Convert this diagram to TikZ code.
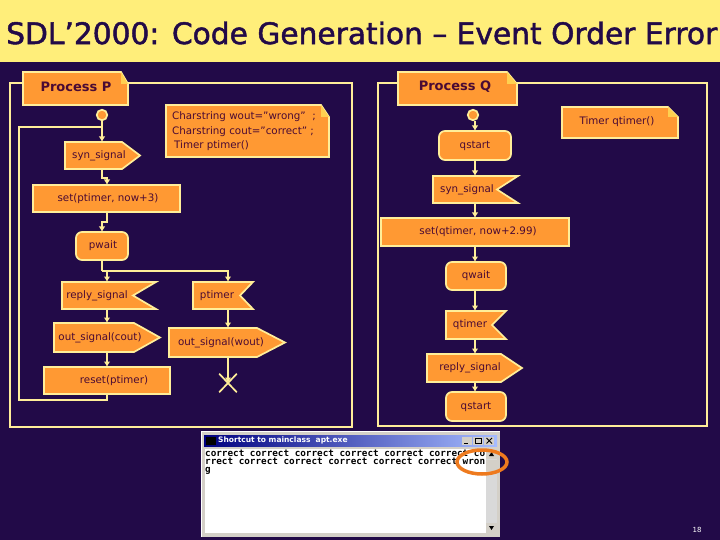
\documentclass[tikz,border=0pt]{standalone}
\usepackage{fontspec}
\setmainfont{DejaVu Sans}
\newfontfamily\monof{DejaVu Sans Mono}
\newfontfamily\titlef[FakeBold=1.6]{DejaVu Sans}
\usetikzlibrary{arrows.meta,shapes.misc}
\definecolor{bgc}{HTML}{220A48}
\definecolor{band}{HTML}{FFEE7A}
\definecolor{boxc}{HTML}{FF9933}
\definecolor{linec}{HTML}{FFEE99}
\definecolor{txt}{HTML}{4A0A34}
\definecolor{fold}{HTML}{FFD050}
\definecolor{winc}{HTML}{D4D0C8}
\definecolor{ringc}{HTML}{EE7A1E}
\tikzset{
  x=1pt,y=-1pt,
  outline/.style={draw=linec,line width=1.7pt,fill=boxc,line join=miter},
  holder/.style={inner sep=0pt,outer sep=0pt},
  lab/.style={inner sep=0pt,text=txt,font=\fontsize{10.3}{12}\selectfont},
  headlab/.style={inner sep=0pt,text=txt,font=\fontsize{13}{15}\selectfont\bfseries},
  flow/.style={draw=linec,line width=1.5pt,-{Latex[length=5.5pt,width=6.5pt]}},
  plainflow/.style={draw=linec,line width=1.5pt},
  frame/.style={draw=linec,line width=1.7pt},
  startc/.style={circle,draw=linec,line width=1.7pt,fill=boxc,minimum size=10.5pt,inner sep=0pt}
}
% holder node: name, x1,y1,x2,y2
\newcommand{\holder}[5]{\node[holder,minimum width={(#4-#2)*1pt},minimum height={(#5-#3)*1pt}] (#1) at ({(#2+#4)/2},{(#3+#5)/2}) {};}
% task / rounded: name,x1,y1,x2,y2,textx,text
\newcommand{\taskbox}[7]{\draw[outline] (#2,#3) rectangle (#4,#5);\holder{#1}{#2}{#3}{#4}{#5}\node[lab] (#1t) at (#6,{(#3+#5)/2}) {#7};}
\newcommand{\statebox}[7]{\draw[outline,rounded corners=6pt] (#2,#3) rectangle (#4,#5);\holder{#1}{#2}{#3}{#4}{#5}\node[lab] (#1t) at (#6,{(#3+#5)/2}) {#7};}
% send: name,x1,y1,x2,y2,notch,textx,text
\newcommand{\sendbox}[8]{\draw[outline] (#2,#3) -- (#6,#3) -- (#4,{(#3+#5)/2}) -- (#6,#5) -- (#2,#5) -- cycle;\holder{#1}{#2}{#3}{#4}{#5}\node[lab] (#1t) at (#7,{(#3+#5)/2}) {#8};}
\newcommand{\recvbox}[8]{\draw[outline] (#2,#3) -- (#4,#3) -- (#6,{(#3+#5)/2}) -- (#4,#5) -- (#2,#5) -- cycle;\holder{#1}{#2}{#3}{#4}{#5}\node[lab] (#1t) at (#7,{(#3+#5)/2}) {#8};}
% note: name,x1,y1,x2,y2,foldx,foldy
\newcommand{\notebox}[7]{\draw[outline] (#2,#3) -- (#6,#3) -- (#4,#7) -- (#4,#5) -- (#2,#5) -- cycle;\fill[fold] (#6,#3) -- (#4,#7) -- (#6,#7) -- cycle;\holder{#1}{#2}{#3}{#4}{#5}}
\begin{document}
\begin{tikzpicture}
\useasboundingbox (0,0) rectangle (720,540);
\fill[bgc] (0,0) rectangle (720,540);
\fill[band] (0,0) rectangle (720,62.5);
\node[inner sep=0pt,anchor=west,text=bgc] (title) at (6,33) {\resizebox{711pt}{!}{\titlef\fontsize{28}{32}\selectfont SDL’2000: Code Generation – Event Order Error}};

% frames
\draw[frame] (10,83) rectangle (352,427);
\draw[frame] (378,83) rectangle (707,426);

% Process P
\notebox{phead}{23}{72}{128}{105}{121}{84}
\node[headlab] (pheadt) at (76,87) {Process P};
\notebox{pnote}{166}{105}{329}{157}{321}{117}
\node[lab,anchor=west] (pn1) at (172,117) {Charstring wout="wrong"\ \ ;};
\node[lab,anchor=west] (pn2) at (172,132) {Charstring cout="correct" ;};
\node[lab,anchor=west] (pn3) at (174,146) {Timer ptimer()};
\node[startc] (pstart) at (102,115) {};
\sendbox{psyn}{65}{142}{140}{169}{122}{99}{syn\_signal}
\taskbox{pset}{33}{185}{180}{212}{108}{set(ptimer, now+3)}
\statebox{pwait}{76}{232}{128}{260}{103}{pwait}
\recvbox{prep}{62}{282}{156}{309}{133}{97}{reply\_signal}
\recvbox{ptim}{193}{282}{253}{309}{240}{217}{ptimer}
\sendbox{pcout}{54}{323}{160}{352}{134}{100}{out\_signal(cout)}
\sendbox{pwout}{169}{328}{285}{357}{257}{221}{out\_signal(wout)}
\taskbox{pres}{44}{367}{170}{394}{114}{reset(ptimer)}
\node[cross out,draw=linec,line width=1.7pt,minimum width=16pt,minimum height=17pt,inner sep=0pt] (pstop) at (228,383) {};

\coordinate (pa) at (102,0);
\coordinate (pb) at (107,0);
\coordinate (pc) at (228,0);
\coordinate (pbr) at (102,271);
\coordinate (ploopa) at (19,400);
\coordinate (ploopb) at (19,127);
\coordinate (pjoin) at (102,127);
\draw[flow] (pstart.south) -- (psyn.north -| pstart.south);
\draw[flow] (psyn.south -| pa) -- ++(0,9) -| (pset.north -| pb);
\draw[flow] (pset.south -| pb) -- ++(0,10) -| (pwait.north -| pa);
\draw[plainflow] (pwait.south -| pa) -- (pbr);
\draw[flow] (pbr) -| (prep.north -| pb);
\draw[flow] (pbr) -| (ptim.north -| pc);
\draw[flow] (prep.south -| pb) -- (pcout.north -| pb);
\draw[flow] (pcout.south -| pb) -- (pres.north -| pb);
\draw[flow] (ptim.south -| pc) -- (pwout.north -| pc);
\draw[flow] (pwout.south -| pc) -- (pstop.center);
\draw[plainflow] (pres.south -| pb) |- (ploopa) -- (ploopb) -- (pjoin);

% Process Q
\notebox{qhead}{398}{72}{517}{105}{507}{84}
\node[headlab] (qheadt) at (455,87) {Process Q};
\notebox{qnote}{562}{107}{678}{138}{668}{117}
\node[lab] (qn1) at (617,122) {Timer qtimer()};
\node[startc] (qbegin) at (473,115) {};
\statebox{qst}{439}{131}{511}{160}{475}{qstart}
\recvbox{qsyn}{433}{176}{518}{203}{497}{467}{syn\_signal}
\taskbox{qset}{381}{218}{569}{246}{478}{set(qtimer, now+2.99)}
\statebox{qwaitb}{446}{262}{506}{290}{476}{qwait}
\recvbox{qtim}{446}{311}{506}{339}{492}{470}{qtimer}
\sendbox{qrep}{427}{354}{522}{382}{501}{470}{reply\_signal}
\statebox{qend}{446}{392}{506}{421}{476}{qstart}
\coordinate (qx) at (475,0);
\draw[flow] (qbegin.south -| qx) -- (qst.north -| qx);
\draw[flow] (qst.south -| qx) -- (qsyn.north -| qx);
\draw[flow] (qsyn.south -| qx) -- (qset.north -| qx);
\draw[flow] (qset.south -| qx) -- (qwaitb.north -| qx);
\draw[flow] (qwaitb.south -| qx) -- (qtim.north -| qx);
\draw[flow] (qtim.south -| qx) -- (qrep.north -| qx);
\draw[flow] (qrep.south -| qx) -- (qend.north -| qx);

% console window
\fill[winc] (201,431) rectangle (500,537);
\draw[white,line width=0.8pt] (201.5,537) -- (201.5,431.5) -- (500,431.5);
\shade[left color=blue!50!black,right color=cyan!25!blue!35!white] (204,435) rectangle (497,446);
\fill[black] (206,436.5) rectangle (216,445);
\node[inner sep=0pt,anchor=west,text=white,font=\fontsize{7.5}{9}\selectfont\bfseries] (wtitle) at (218,440.5) {Shortcut to mainclass\ \ apt.exe};
\foreach \bx in {462,473,484}{\fill[winc] (\bx,436.5) rectangle ++(10,8.5);}
\draw[black,line width=0.8pt] (464,443) -- (468,443);
\draw[black,line width=0.8pt] (475.5,438) rectangle (481,443);
\draw[black,line width=0.8pt] (486.5,438) -- (492,443.5) (492,438) -- (486.5,443.5);
\fill[white] (205,449) rectangle (497,533);
\fill[gray!30] (486,449) rectangle (497,533);
\fill[winc] (486,449) rectangle (497,459);
\fill[winc] (486,460) rectangle (497,471);
\fill[winc] (486,523) rectangle (497,533);
\fill[black] (489,456) -- (494,456) -- (491.5,452) -- cycle;
\fill[black] (489,526) -- (494,526) -- (491.5,530) -- cycle;
\node[inner sep=0pt,anchor=west,text=black,font=\monof\bfseries\fontsize{9.3}{11}\selectfont] (w1) at (205,453.5) {correct correct correct correct correct correct co};
\node[inner sep=0pt,anchor=west,text=black,font=\monof\bfseries\fontsize{9.3}{11}\selectfont] (w2) at (205,461.5) {rrect correct correct correct correct correct wron};
\node[inner sep=0pt,anchor=west,text=black,font=\monof\bfseries\fontsize{9.3}{11}\selectfont] (w3) at (205,471) {g};
\draw[ringc,line width=3.5pt] (482,462) ellipse [x radius=25,y radius=12];
\node[inner sep=0pt,text=white,font=\fontsize{7}{8}\selectfont] (pageno) at (697,530) {18};
\end{tikzpicture}
\end{document}
